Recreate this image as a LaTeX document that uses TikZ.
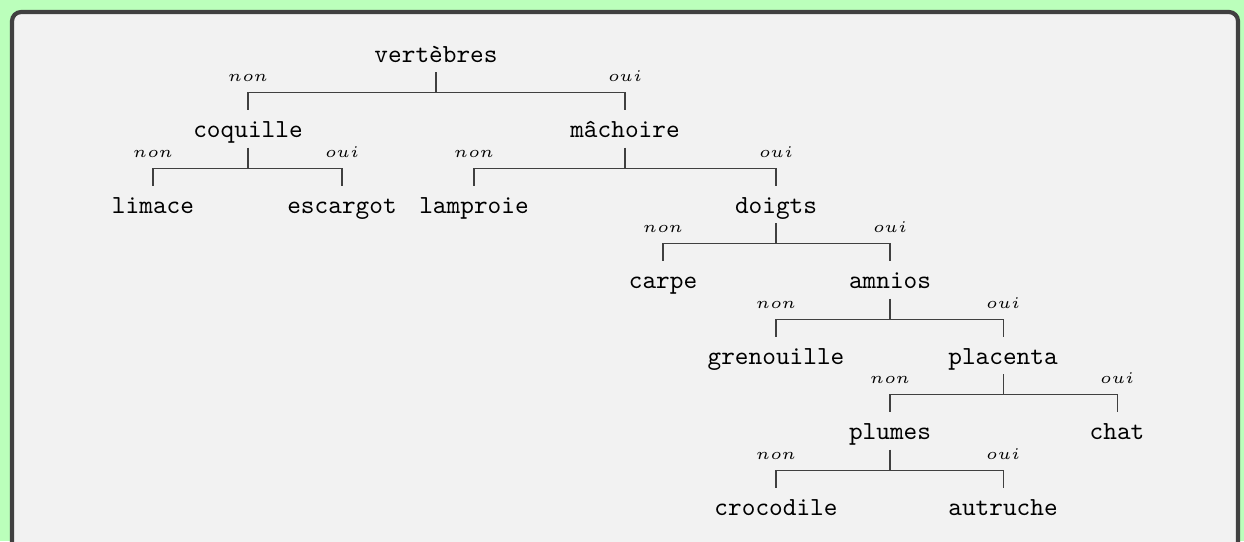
\documentclass[tikz,border=0pt]{standalone}
\usepackage{fontspec}
\definecolor{bggreen}{RGB}{187,255,187}
\definecolor{framefill}{RGB}{242,242,242}
\definecolor{framedraw}{RGB}{64,64,64}
\tikzset{
  tnode/.style={font=\ttfamily, anchor=base, inner xsep=1pt, inner ysep=2.2pt, text height=8pt, text depth=1.6pt},
  edge/.style={draw=black!75, line width=0.4pt},
  lab/.style={font=\tiny, scale=1.25, anchor=base, inner sep=0pt, yshift=3.4pt},
}
\newcommand\branch[3]{\draw[edge] (#1.south) -- ++(0,20.5) -| node[lab,pos=0.5] {$#3$} (#2.north);}
\begin{document}
\begin{tikzpicture}[x=0.384pt,y=-0.384pt]
\useasboundingbox (0,0) rectangle (1244,541);
\clip (0,0) rectangle (1244,541);
\fill[bggreen] (0,0) rectangle (1244,541);
\draw[framedraw, fill=framefill, line width=1.6pt, rounded corners=3.5pt] (12,12) rectangle (1238,620);

\node[tnode] (vert) at (436,62) {vertèbres};
\node[tnode] (coq) at (248,137.5) {coquille};
\node[tnode] (mach) at (625,137.5) {mâchoire};
\node[tnode] (lim) at (153,213) {limace};
\node[tnode] (esc) at (342,213) {escargot};
\node[tnode] (lamp) at (474,213) {lamproie};
\node[tnode] (doig) at (776,213) {doigts};
\node[tnode] (carp) at (663,288.5) {carpe};
\node[tnode] (amn) at (890,288.5) {amnios};
\node[tnode] (gren) at (776,364) {grenouille};
\node[tnode] (plac) at (1003,364) {placenta};
\node[tnode] (plum) at (890,439.5) {plumes};
\node[tnode] (chat) at (1117,439.5) {chat};
\node[tnode] (croc) at (776,515) {crocodile};
\node[tnode] (autr) at (1003,515) {autruche};

\branch{vert}{coq}{non}
\branch{vert}{mach}{oui}
\branch{coq}{lim}{non}
\branch{coq}{esc}{oui}
\branch{mach}{lamp}{non}
\branch{mach}{doig}{oui}
\branch{doig}{carp}{non}
\branch{doig}{amn}{oui}
\branch{amn}{gren}{non}
\branch{amn}{plac}{oui}
\branch{plac}{plum}{non}
\branch{plac}{chat}{oui}
\branch{plum}{croc}{non}
\branch{plum}{autr}{oui}
\end{tikzpicture}
\end{document}
